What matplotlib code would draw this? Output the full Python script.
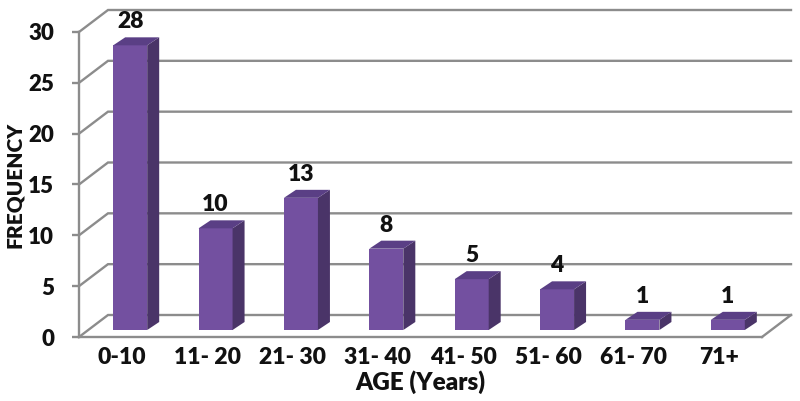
import numpy as np
from matplotlib import pyplot as plt
from matplotlib.patches import Polygon

plt.rcParams['font.family'] = ['Lato', 'DejaVu Sans']
plt.rcParams['font.weight'] = 'heavy'
plt.rcParams['axes.labelweight'] = 'heavy'

age_groups = ['0-10', '11- 20', '21- 30', '31- 40', '41- 50', '51- 60', '61- 70', '71+']
frequency = [28, 10, 13, 8, 5, 4, 1, 1]
y_ticks = [0, 5, 10, 15, 20, 25, 30]

grid_col = '#8c8c8c'
front_col = '#7350a0'
side_col = '#4a3468'
top_col = '#5a3f85'
text_col = '#111111'

W, H = 800, 401
fig = plt.figure(figsize=(W / 100, H / 100), dpi=100)
# axes box is the front plane of the fake 3d chart
ax = fig.add_axes([79 / W, 1 - 337 / H, (762 - 79) / W, (337 - 32) / H])
ax.set_xlim(0, len(age_groups))
ax.set_ylim(0, 30)

# pixels to data units, the depth offsets are given in pixels
ux = (762 - 79) / len(age_groups)
uy = (337 - 32) / 30
wall_dx, wall_dy = 29 / ux, 22 / uy
bar_dx, bar_dy = 8.5 / ux, 7 / uy
depth_dx, depth_dy = 12 / ux, 8 / uy
half_w = 17 / ux

# back wall lines and the diagonals coming from the left axis
for t in y_ticks:
    ax.plot([0, wall_dx, len(age_groups) + wall_dx], [t, t + wall_dy, t + wall_dy],
            color=grid_col, lw=1.7, clip_on=False, zorder=1, solid_joinstyle='miter')

# floor, right side
ax.plot([len(age_groups), len(age_groups) + wall_dx], [0, wall_dy],
        color=grid_col, lw=1.7, clip_on=False, zorder=1)

for i, v in enumerate(frequency):
    x0 = i + 0.5 + bar_dx - half_w
    x1 = i + 0.5 + bar_dx + half_w
    y0 = bar_dy
    y1 = v + bar_dy
    ax.bar(x0, v, width=x1 - x0, bottom=y0, align='edge', color=front_col, zorder=3, clip_on=False)
    ax.add_patch(Polygon([(x1, y0), (x1 + depth_dx, y0 + depth_dy), (x1 + depth_dx, y1 + depth_dy), (x1, y1)],
                         facecolor=side_col, clip_on=False, zorder=3))
    ax.add_patch(Polygon([(x0, y1), (x1, y1), (x1 + depth_dx, y1 + depth_dy), (x0 + depth_dx, y1 + depth_dy)],
                         facecolor=top_col, clip_on=False, zorder=3))
    ax.annotate(str(v), (i + 0.5 + bar_dx, y1 + depth_dy), xytext=(0, 5), textcoords='offset pixels',
                ha='center', va='bottom', fontsize=16.5, color=text_col, annotation_clip=False, zorder=4)

ax.set_xticks(np.arange(len(age_groups)) + 0.5)
ax.set_xticklabels(age_groups, fontsize=16.5, color=text_col)
ax.set_yticks(y_ticks)
ax.tick_params(axis='x', length=0, pad=7)
ax.tick_params(axis='y', length=5, width=1.7, color=grid_col, labelsize=16, labelcolor=text_col, pad=13)

ax.spines['top'].set_visible(False)
ax.spines['right'].set_visible(False)
ax.spines['left'].set_color(grid_col)
ax.spines['bottom'].set_color(grid_col)
ax.spines['left'].set_linewidth(1.7)
ax.spines['bottom'].set_linewidth(1.7)
ax.patch.set_alpha(0)

ax.set_xlabel('AGE (Years)', fontsize=17.5, color=text_col, labelpad=2)
ax.set_ylabel('FREQUENCY', fontsize=15, color=text_col, labelpad=3)

plt.savefig('out.png', dpi=100)
